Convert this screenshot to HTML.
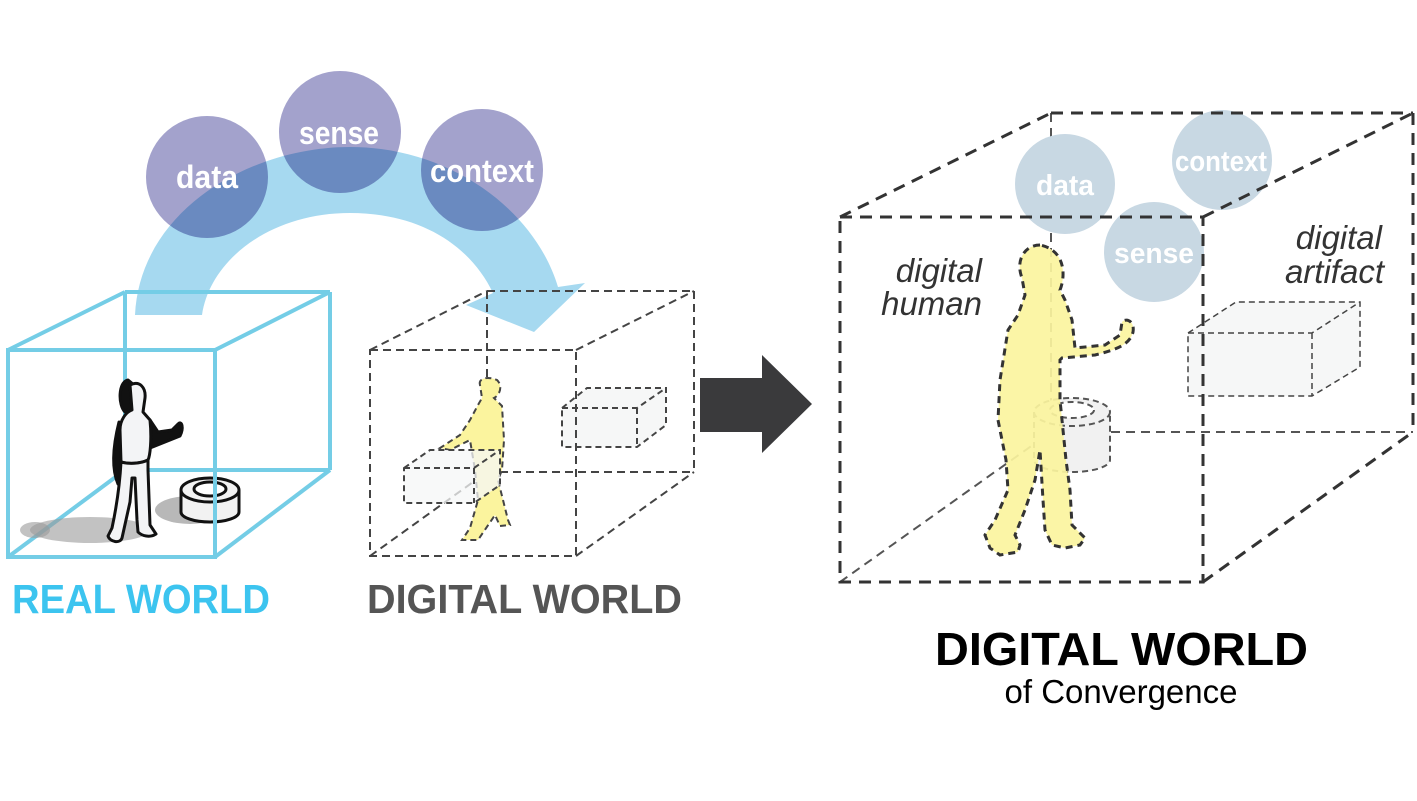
<!DOCTYPE html>
<html><head><meta charset="utf-8"><style>
html,body{margin:0;padding:0;background:#fff;}
svg{display:block;}
</style></head><body>
<svg width="1417" height="801" viewBox="0 0 1417 801" xmlns="http://www.w3.org/2000/svg" font-family="Liberation Sans, sans-serif">
<rect width="1417" height="801" fill="#fff"/>

<!-- arc arrow -->
<path d="M135,315 C140,210 250,147 350,147 C450,147 535,210 558,287 L585,283 L534,332 L466,305 L493,293 C470,245 420,213 350,213 C270,213 210,260 202,315 Z" fill="#a6d9f0"/>
<g fill="#a3a2cc" style="mix-blend-mode:multiply">
<circle cx="207" cy="177" r="61"/>
<circle cx="340" cy="132" r="61"/>
<circle cx="482" cy="170" r="61"/>
</g>
<g fill="#fff" font-weight="bold" font-size="32" text-anchor="middle">
<text x="207" y="188" textLength="62" lengthAdjust="spacingAndGlyphs">data</text>
<text x="339" y="144" textLength="80" lengthAdjust="spacingAndGlyphs">sense</text>
<text x="482" y="182" textLength="104" lengthAdjust="spacingAndGlyphs">context</text>
</g>

<!-- real world cube -->
<g stroke="#74cde6" stroke-width="4" fill="none">
<line x1="125" y1="292" x2="125" y2="470"/>
<line x1="125" y1="470" x2="330" y2="470"/>
<line x1="8" y1="557" x2="125" y2="470"/>
</g>
<ellipse cx="90" cy="530" rx="60" ry="13" fill="#9a9a9a" fill-opacity="0.6"/>
<ellipse cx="35" cy="530" rx="15" ry="8" fill="#9a9a9a" fill-opacity="0.6"/>
<ellipse cx="190" cy="510" rx="35" ry="14" fill="#9a9a9a" fill-opacity="0.7"/>
<!-- cylinder -->
<path d="M181,490 L181,512 A29,10 0 0 0 239,512 L239,490" fill="#f2f2f2" stroke="#111" stroke-width="3"/>
<ellipse cx="210" cy="490" rx="29" ry="12" fill="#f2f2f2" stroke="#111" stroke-width="3"/>
<ellipse cx="210" cy="489" rx="16" ry="7" fill="#fff" stroke="#111" stroke-width="3"/>
<!-- person -->
<g stroke="#111" stroke-width="3" stroke-linejoin="round">
<path d="M150,420 L150,448 L180,436 C184,428 182,420 178,424 L172,430 L158,432 Z" fill="#111"/>
<path d="M119,422 C112,450 112,470 118,484 L124,482 L122,450 Z" fill="#111"/>
<path d="M128,380 C118,382 118,405 125,412 L128,410 L140,410 L140,390 Z" fill="#111"/>
<path d="M130,385 C140,380 146,388 145,398 L143,412 L150,420 C152,440 150,456 148,460 C140,464 128,464 121,462 L120,430 C120,420 126,412 132,410 Z" fill="#f3f4f6"/>
<path d="M121,462 C120,480 118,500 112,528 L108,536 C110,542 120,544 122,538 L130,502 L132,478 L135,478 L137,520 L138,532 C142,536 150,538 156,534 L150,525 L148,470 L148,460 C140,464 128,464 121,462 Z" fill="#f3f4f6"/>
</g>
<g stroke="#74cde6" stroke-width="4" fill="none">
<rect x="8" y="350" width="207" height="207"/>
<line x1="8" y1="350" x2="125" y2="292"/>
<line x1="125" y1="292" x2="330" y2="292"/>
<line x1="215" y1="350" x2="330" y2="292"/>
<line x1="330" y1="292" x2="330" y2="470"/>
<line x1="215" y1="557" x2="330" y2="470"/>
</g>

<!-- small digital cube -->
<g stroke="#444" stroke-width="2" stroke-dasharray="8,5" fill="none">
<line x1="487" y1="291" x2="487" y2="472"/>
<line x1="487" y1="472" x2="694" y2="472"/>
<line x1="370" y1="556" x2="487" y2="472"/>
</g>
<g stroke="#444" stroke-width="2" stroke-dasharray="6,4" fill="#f6f7f7">
<path d="M562,408 L587,388 L666,388 L666,425 L637,447 L562,447 Z"/>
<path d="M562,408 L637,408 L666,388 M637,408 L637,447" fill="none"/>
</g>
<path d="M480,385 C478,378 488,376 497,380 C503,386 500,395 494,398 L502,406 L504,440 L502,470 L498,480 L508,520 L510,525 L500,526 L495,515 L478,540 L462,540 L470,528 L478,500 L475,470 L470,440 L450,450 L440,448 L460,435 L470,420 L478,405 L482,398 Z" fill="#fbf49e" stroke="#444" stroke-width="2" stroke-dasharray="6,4"/>
<g stroke="#444" stroke-width="2" stroke-dasharray="6,4" fill="#f6f7f7" fill-opacity="0.75">
<path d="M404,468 L430,450 L500,450 L500,485 L474,503 L404,503 Z"/>
<path d="M404,468 L474,468 L500,450 M474,468 L474,503" fill="none"/>
</g>
<g stroke="#444" stroke-width="2" stroke-dasharray="8,5" fill="none">
<rect x="370" y="350" width="206" height="206"/>
<line x1="370" y1="350" x2="487" y2="291"/>
<line x1="487" y1="291" x2="694" y2="291"/>
<line x1="576" y1="350" x2="694" y2="291"/>
<line x1="694" y1="291" x2="694" y2="472"/>
<line x1="576" y1="556" x2="694" y2="472"/>
</g>

<!-- big arrow -->
<path d="M700,378 L762,378 L762,355 L812,404 L762,453 L762,432 L700,432 Z" fill="#3a3a3c"/>

<!-- big cube back lines -->
<g stroke="#555" stroke-width="2" stroke-dasharray="9,6" fill="none">
<line x1="1051" y1="113" x2="1051" y2="432"/>
<line x1="1051" y1="432" x2="1413" y2="432"/>
<line x1="840" y1="582" x2="1051" y2="432"/>
</g>
<g fill="#c8d8e3">
<circle cx="1065" cy="184" r="50"/>
<circle cx="1154" cy="252" r="50"/>
<circle cx="1222" cy="160" r="50"/>
</g>
<g fill="#fff" font-weight="bold" font-size="29" text-anchor="middle">
<text x="1065" y="195" textLength="58" lengthAdjust="spacingAndGlyphs">data</text>
<text x="1154" y="263" textLength="80" lengthAdjust="spacingAndGlyphs">sense</text>
<text x="1221" y="171" textLength="92" lengthAdjust="spacingAndGlyphs">context</text>
</g>
<g stroke="#444" stroke-width="1.5" stroke-dasharray="6,4" fill="#f6f7f7">
<path d="M1188,333 L1236,302 L1360,302 L1360,367 L1312,396 L1188,396 Z"/>
<path d="M1188,333 L1312,333 L1360,302 M1312,333 L1312,396" fill="none"/>
</g>
<path d="M1034,412 L1034,460 A38,12 0 0 0 1110,460 L1110,412" fill="#f1f1f1" stroke="#555" stroke-width="2" stroke-dasharray="6,4"/>
<ellipse cx="1072" cy="412" rx="38" ry="14" fill="#f1f1f1" stroke="#555" stroke-width="2" stroke-dasharray="6,4"/>
<ellipse cx="1072" cy="410" rx="22" ry="8" fill="#fff" stroke="#555" stroke-width="2" stroke-dasharray="6,4"/>
<path d="M1040,245 C1025,245 1015,260 1022,278 L1025,295 L1018,315 L1008,330 L1000,380 L998,420 L1006,460 L1008,490 L995,520 L985,535 L990,548 L1000,555 L1018,552 L1020,545 L1015,535 L1025,510 L1035,480 L1040,450 L1043,500 L1045,530 L1052,545 L1065,548 L1080,545 L1085,538 L1072,525 L1070,490 L1066,460 L1060,400 L1060,360 L1062,358 L1095,355 C1115,350 1130,345 1133,332 C1135,320 1125,318 1122,322 L1120,335 L1105,345 L1075,348 L1072,320 L1065,300 L1060,290 C1066,275 1065,250 1040,245 Z" fill="#fbf49e" fill-opacity="0.92" stroke="#333" stroke-width="3" stroke-dasharray="7,5"/>
<g stroke="#333" stroke-width="3" stroke-dasharray="12,8" fill="none">
<rect x="840" y="217" width="363" height="365"/>
<line x1="840" y1="217" x2="1051" y2="113"/>
<line x1="1051" y1="113" x2="1413" y2="113"/>
<line x1="1203" y1="217" x2="1413" y2="113"/>
<line x1="1413" y1="113" x2="1413" y2="432"/>
<line x1="1203" y1="582" x2="1413" y2="432"/>
</g>
<g fill="#333" font-style="italic" font-size="33" text-anchor="end">
<text x="982" y="282">digital</text>
<text x="982" y="315">human</text>
<text x="1382" y="249">digital</text>
<text x="1384" y="283">artifact</text>
</g>

<text x="12" y="613" font-size="41" font-weight="bold" fill="#3cc4ef" textLength="258" lengthAdjust="spacingAndGlyphs">REAL WORLD</text>
<text x="367" y="613" font-size="41" font-weight="bold" fill="#555" textLength="315" lengthAdjust="spacingAndGlyphs">DIGITAL WORLD</text>
<text x="935" y="665" font-size="46" font-weight="bold" fill="#000" textLength="373" lengthAdjust="spacingAndGlyphs">DIGITAL WORLD</text>
<text x="1121" y="703" font-size="33" fill="#000" text-anchor="middle">of Convergence</text>
</svg>
</body></html>
